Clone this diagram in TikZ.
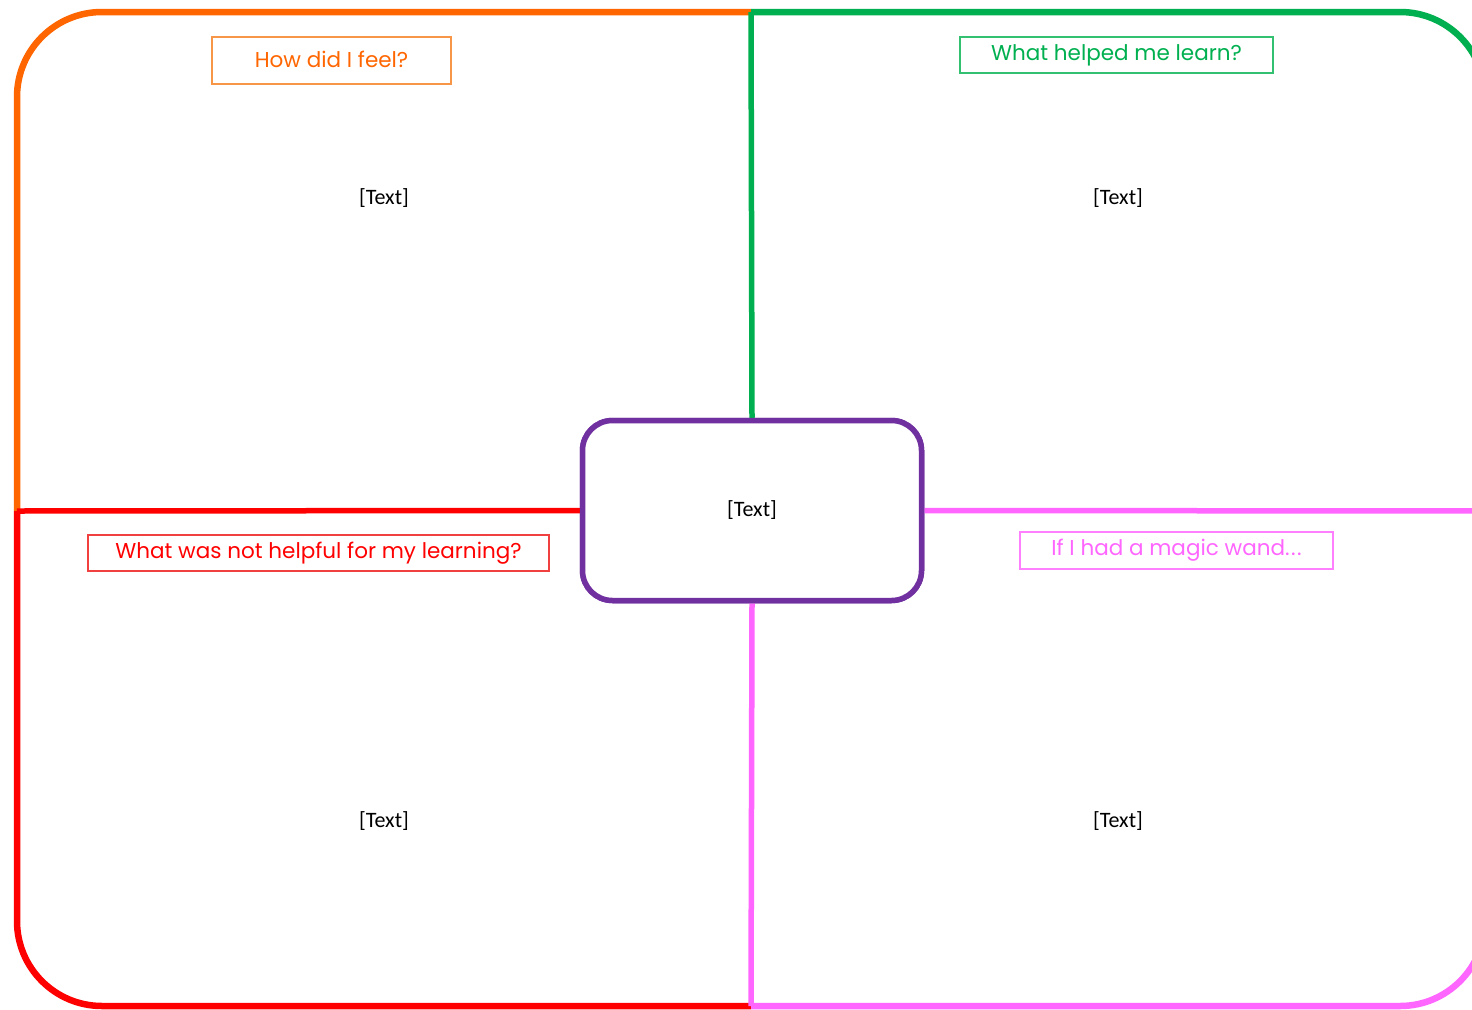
\documentclass[tikz,border=0pt]{standalone}
\usepackage{fontspec}
\setmainfont{Carlito}
\newfontfamily\headfont{Poppins}
\definecolor{qorange}{HTML}{FF6600}
\definecolor{qgreen}{HTML}{00B050}
\definecolor{qred}{HTML}{FF0000}
\definecolor{qpink}{HTML}{FF66FF}
\definecolor{qpurple}{HTML}{7030A0}
\definecolor{lorange}{HTML}{F79646}
\definecolor{lgreen}{HTML}{33C070}
\definecolor{lred}{HTML}{F04040}
\definecolor{lpink}{HTML}{FF80FF}
\begin{document}
\begin{tikzpicture}[x=1pt,y=-1pt,
  frame/.style={line width=6.5pt,rounded corners=85pt},
  divider/.style={line width=5.5pt},
  hub/.style={draw=qpurple,line width=5.5pt,rounded corners=30pt,
    minimum width=339pt,minimum height=180pt,fill=white,font=\fontsize{22}{26}\selectfont},
  heading/.style={draw=#1,line width=1.3pt,inner sep=0pt,
    font=\headfont\fontsize{21.5}{25}\selectfont},
  filler/.style={font=\fontsize{22}{26}\selectfont}]
\clip (0,0) rectangle (1472,1009);
\fill[white] (0,0) rectangle (1472,1009);

% frame anchor points
\coordinate (top) at (751,12);
\coordinate (bottom) at (751,1006);
\coordinate (left) at (17,511);
\coordinate (right) at (1485,511);

% outer rounded frame, one colour per quadrant
\draw[frame,qorange] (left) -- (17,12) -- (top);
\draw[frame,qgreen] (top) -- (1485,12) -- (right);
\draw[frame,qred] (left) -- (17,1006) -- (bottom);
\draw[frame,qpink] (bottom) -- (1485,1006) -- (right);

% central hub
\node[hub] (c) at (752,510.5) {};

% dividers from hub to frame
\draw[divider,qgreen] (c.north) -- (top);
\draw[divider,qred] (c.west) -- (left);
\draw[divider,qpink] (c.east) -- (right);
\draw[divider,qpink] (c.south) -- (bottom);
\node[hub] at (c) {[Text]};

% quadrant headings
\node[heading=lorange,text=qorange,minimum width=239pt,minimum height=47pt] (h1) at (331.5,60.5) {\raisebox{3pt}{How did I feel?}};
\node[heading=lgreen,text=qgreen,minimum width=313pt,minimum height=36pt] (h2) at (1116.5,55) {What helped me learn?};
\node[heading=lred,text=qred,minimum width=461pt,minimum height=36pt] (h3) at (318.5,553) {\raisebox{-1.5pt}{What was not helpful for my learning?}};
\node[heading=lpink,text=qpink,minimum width=313pt,minimum height=37pt] (h4) at (1176.5,550.5) {If I had a magic wand.\kern1.5pt.\kern1.5pt.};

% placeholder texts
\node[filler] (t1) at (384,198) {[Text]};
\node[filler] (t2) at (1118,198) {[Text]};
\node[filler] (t3) at (384,821) {[Text]};
\node[filler] (t4) at (1118,821) {[Text]};
\end{tikzpicture}
\end{document}
